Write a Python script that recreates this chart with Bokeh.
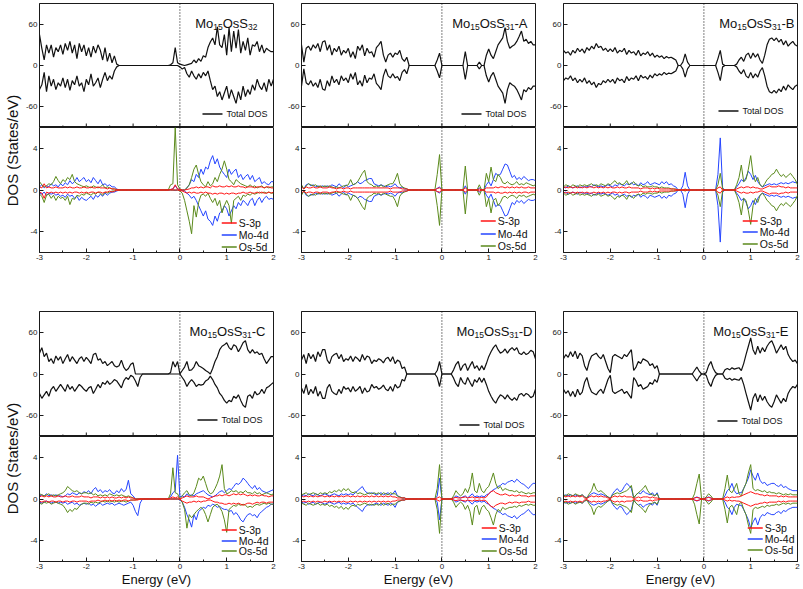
import numpy as np
from bokeh.plotting import figure
from bokeh.models import Range1d, FixedTicker, Span, Label
from bokeh.layouts import row, column
from bokeh.embed import file_html
from bokeh.resources import INLINE

# ---------------- data (0.05 eV steps from -3 to 2 eV) ----------------
ENERGY = np.round(np.linspace(-3.0, 2.0, 101), 2)
X_TICKS = [-3, -2, -1, 0, 1, 2]
X_MINOR = [-2.5, -1.5, -0.5, 0.5, 1.5]
TOT_TICKS = [-60, 0, 60]
PDOS_TICKS = [-4, 0, 4]
# title pieces: (text, is_subscript)
TITLES = [
    [("Mo", 0), ("15", 1), ("OsS", 0), ("32", 1)],
    [("Mo", 0), ("15", 1), ("OsS", 0), ("31", 1), ("-A", 0)],
    [("Mo", 0), ("15", 1), ("OsS", 0), ("31", 1), ("-B", 0)],
    [("Mo", 0), ("15", 1), ("OsS", 0), ("31", 1), ("-C", 0)],
    [("Mo", 0), ("15", 1), ("OsS", 0), ("31", 1), ("-D", 0)],
    [("Mo", 0), ("15", 1), ("OsS", 0), ("31", 1), ("-E", 0)],
]
TOTAL_LABEL = "Total DOS"
PDOS_LABELS = ["S-3p", "Mo-4d", "Os-5d"]

# Panel 1: Mo15OsS32 (spin up / spin down)
TOT0_UP = [45,25,8,30,18,30,12,26,20,30,
           16,32,22,35,18,30,10,32,20,30,
           14,26,12,28,18,30,22,8,26,6,
           18,4,14,2,0,0,0,0,0,0,
           0,0,0,0,0,0,0,0,0,0,
           0,0,0,0,0,0,1,4,26,4,
           2,1,0,1,2,3,8,4,10,6,
           14,12,26,34,40,30,56,30,26,45,
           15,55,20,50,25,52,18,35,22,40,
           15,30,28,35,20,30,18,25,22,20,
           20]
TOT0_DN = [-35,-28,-10,-38,-15,-30,-20,-35,-25,-30,
           -18,-32,-20,-36,-22,-28,-15,-30,-25,-38,
           -20,-28,-12,-30,-25,-18,-32,-20,-10,-22,
           -15,-20,-8,-2,0,0,0,0,0,0,
           0,0,0,0,0,0,0,0,0,0,
           0,0,0,0,0,0,0,0,0,0,
           -2,-5,-3,-12,-17,-8,-15,-20,-12,-18,
           -10,-15,-8,-22,-35,-30,-45,-38,-50,-40,
           -30,-48,-35,-45,-55,-38,-50,-30,-45,-35,
           -42,-28,-36,-20,-30,-35,-25,-38,-20,-30,
           -20]
S0_UP = [0.3,0.2,0.6,0.2,0.3,0.2,0.2,0.3,0.2,0.2,
         0.2,0.3,0.2,0.3,0.2,0.2,0.3,0.2,0.2,0.3,
         0.2,0.2,0.3,0.2,0.2,0.3,0.2,0.2,0.2,0.1,
         0.2,0.1,0.1,0.05,0,0,0,0,0,0,
         0,0,0,0,0,0,0,0,0,0,
         0,0,0,0,0,0,0.05,0.1,0.5,0.1,
         0.05,0,0,0.05,0.1,0.2,0.2,0.3,0.2,0.3,
         0.2,0.3,0.3,0.2,0.4,0.3,0.3,0.4,0.3,0.3,
         0.4,0.3,0.4,0.3,0.3,0.4,0.3,0.3,0.2,0.3,
         0.3,0.3,0.2,0.3,0.3,0.3,0.2,0.3,0.3,0.2,
         0.2]
S0_DN = [-0.2,-0.3,-0.8,-0.2,-0.3,-0.2,-0.3,-0.2,-0.3,-0.2,
         -0.3,-0.2,-0.3,-0.2,-0.3,-0.2,-0.2,-0.3,-0.2,-0.3,
         -0.2,-0.3,-0.2,-0.2,-0.3,-0.2,-0.2,-0.3,-0.2,-0.2,
         -0.1,-0.2,-0.1,-0.05,0,0,0,0,0,0,
         0,0,0,0,0,0,0,0,0,0,
         0,0,0,0,0,0,0,0,0,0,
         -0.05,-0.1,-0.2,-0.3,-0.2,-0.3,-0.2,-0.3,-0.3,-0.2,
         -0.3,-0.2,-0.3,-0.3,-0.4,-0.3,-0.4,-0.3,-0.3,-0.4,
         -0.3,-0.4,-0.3,-0.3,-0.4,-0.3,-0.3,-0.2,-0.3,-0.3,
         -0.2,-0.3,-0.3,-0.2,-0.3,-0.2,-0.3,-0.3,-0.2,-0.3,
         -0.2]
MO0_UP = [0.3,0.5,0.2,0.4,0.3,0.6,0.4,0.5,0.3,0.6,
          0.4,0.7,0.5,0.9,0.6,0.8,1.2,0.8,1.0,1.2,
          0.8,1.0,0.7,1.2,0.9,0.6,1.0,0.5,0.6,0.4,
          0.5,0.3,0.3,0.1,0,0,0,0,0,0,
          0,0,0,0,0,0,0,0,0,0,
          0,0,0,0,0,0,0.05,0.1,0.4,0.1,
          0.05,0,0,0.2,0.5,1.0,0.8,1.5,1.2,2.0,
          1.5,2.2,2.0,2.8,3.3,2.5,3.0,2.2,1.8,1.5,
          1.2,2.0,1.5,1.8,2.0,1.2,1.5,1.0,1.3,1.5,
          1.0,1.4,0.8,1.0,1.2,0.6,0.8,0.6,0.5,0.8,
          0.8]
MO0_DN = [-0.3,-0.4,-0.2,-0.5,-0.3,-0.4,-0.3,-0.5,-0.4,-0.6,
          -0.5,-0.7,-0.4,-0.6,-0.5,-0.8,-0.6,-1.0,-0.7,-0.9,
          -1.0,-0.8,-0.6,-0.9,-0.5,-0.7,-0.4,-0.6,-0.3,-0.5,
          -0.3,-0.2,-0.2,-0.1,0,0,0,0,0,0,
          0,0,0,0,0,0,0,0,0,0,
          0,0,0,0,0,0,0,0,-0.05,0,
          0,-0.05,-0.1,-0.3,-0.5,-0.8,-0.6,-1.0,-1.5,-2.0,
          -2.5,-2.0,-2.8,-3.0,-3.4,-2.5,-3.0,-2.2,-2.0,-1.5,
          -1.8,-2.5,-2.0,-1.5,-1.8,-1.2,-1.5,-1.0,-1.2,-1.5,
          -1.0,-0.8,-1.5,-1.0,-0.7,-1.2,-0.8,-0.6,-0.9,-0.8,
          -0.9]
OS0_UP = [0.8,0.5,0.3,0.4,0.6,0.5,0.8,1.3,0.9,0.6,
          1.0,0.8,1.2,1.0,1.5,0.8,0.6,0.5,0.4,0.3,
          0.4,0.3,0.2,0.4,0.3,0.2,0.3,0.5,0.2,0.3,
          0.2,0.1,0.1,0.05,0,0,0,0,0,0,
          0,0,0,0,0,0,0,0,0,0,
          0,0,0,0,0,0,0.5,0.6,6.0,0.5,
          0.1,0,0,0.2,0.5,1.2,2.0,2.4,1.5,0.8,
          0.5,0.3,0.8,0.4,0.6,1.2,0.8,1.5,2.0,2.8,
          2.0,1.0,0.8,0.5,1.0,0.8,0.6,0.5,0.4,0.3,
          0.5,0.3,0.4,0.2,0.3,0.4,0.2,0.3,0.2,0.3,
          0.3]
OS0_DN = [-0.4,-0.6,-1.2,-0.5,-0.4,-0.8,-0.5,-1.0,-0.6,-0.8,
          -0.7,-1.0,-0.6,-1.4,-0.8,-0.9,-0.5,-0.6,-0.4,-0.5,
          -0.3,-0.4,-0.5,-0.3,-0.4,-0.2,-0.3,-0.5,-0.2,-0.3,
          -0.2,-0.1,-0.1,0,0,0,0,0,0,0,
          0,0,0,0,0,0,0,0,0,0,
          0,0,0,0,0,0,0,0,0,0,
          -0.1,-0.3,-1.0,-2.0,-3.0,-4.2,-1.5,-2.6,-1.2,-0.5,
          -0.4,-0.6,-0.3,-0.8,-1.2,-0.8,-1.5,-1.0,-2.2,-1.5,
          -1.0,-1.5,-3.2,-1.0,-0.8,-0.6,-1.0,-0.5,-0.6,-0.4,
          -0.5,-0.3,-0.4,-0.3,-0.2,-0.3,-0.2,-0.3,-0.2,-0.3,
          -0.3]

# Panel A (spin down mirrors spin up in the picture)
TOT_A = [30,5,25,28,22,30,25,32,20,34,
         36,22,30,15,25,20,28,15,22,18,
         25,12,20,10,28,22,30,14,25,18,
         20,12,26,30,35,15,5,15,18,12,
         18,16,22,10,6,12,0,0,0,0,
         0,0,0,0,0,0,0,0,8,18,
         0,0,0,0,0,0,0,0,0,0,
         20,0,0,0,0,0,5,0,0,15,
         24,15,10,20,30,35,40,55,35,25,
         28,30,35,42,50,35,38,32,35,30,
         30]
S_A = [0.3,0.1,0.3,0.2,0.2,0.3,0.2,0.2,0.3,0.2,
       0.2,0.2,0.3,0.2,0.2,0.1,0.2,0.2,0.1,0.2,
       0.2,0.1,0.2,0.2,0.2,0.2,0.2,0.2,0.2,0.2,
       0.2,0.2,0.2,0.2,0.2,0.2,0.2,0.2,0.1,0.2,
       0.2,0.2,0.2,0.1,0.1,0.1,0,0,0,0,
       0,0,0,0,0,0,0,0,0.15,0.2,
       0,0,0,0,0,0,0,0,0,0,
       0.2,0,0,0,0,0,0.1,0,0,0.2,
       0.2,0.2,0.2,0.3,0.2,0.3,0.3,0.2,0.3,0.2,
       0.3,0.2,0.3,0.2,0.3,0.2,0.2,0.3,0.2,0.2,
       0.2]
MO_A = [0.4,0.1,0.5,0.6,0.4,0.5,0.3,0.4,0.3,0.4,
        0.3,0.4,0.3,0.5,0.4,0.3,0.6,0.4,0.2,0.5,
        0.3,0.4,0.5,0.6,0.8,0.6,0.7,0.9,1.0,1.1,
        1.1,0.6,0.5,0.4,0.5,0.4,0.3,0.4,0.3,0.4,
        0.6,0.3,0.2,0.3,0.1,0.1,0,0,0,0,
        0,0,0,0,0,0,0,0,0.15,0.3,
        0,0,0,0,0,0,0,0,0,0,
        0.4,0,0,0,0,0,0.2,0,0,0.5,
        0.8,0.4,1.0,1.6,1.4,1.5,2.0,2.5,2.4,1.8,
        1.2,1.4,1.0,1.2,1.0,1.3,1.1,0.9,1.0,1.0,
        0.9]
OS_A = [0.5,0.1,0.4,0.6,0.5,0.4,0.5,0.3,0.4,0.3,
        0.4,0.3,0.4,0.3,0.2,0.3,0.2,0.3,0.4,0.4,
        0.5,1.0,0.5,0.6,0.8,1.2,1.6,1.9,0.8,0.6,
        0.5,0.3,0.4,0.3,0.5,0.3,0.4,0.5,0.6,0.6,
        1.0,1.6,0.6,0.3,0.2,0.1,0,0,0,0,
        0,0,0,0,0,0,0,0,1.5,3.4,
        0,0,0,0,0,0,0,0,0,0,
        2.3,0,0,0,0,0,0.5,0,0,1.6,
        0.8,2.2,1.0,0.8,1.5,1.2,0.7,0.6,0.8,0.6,
        0.5,0.6,0.8,0.5,0.6,0.5,0.7,0.6,0.5,0.4,
        0.5]

# Panel B (mirrored spins)
TOT_B = [22,18,20,15,22,18,25,20,24,18,
         26,22,28,24,32,26,28,22,25,20,
         24,20,26,18,22,20,25,16,22,18,
         20,15,22,14,18,16,20,14,18,12,
         15,12,14,10,13,11,12,10,8,0,
         0,5,17,5,0,0,0,0,0,0,
         0,0,0,0,0,0,10,22,2,0,
         0,0,0,0,2,8,12,6,15,18,
         10,18,12,17,8,3,15,30,38,40,
         36,40,34,38,30,36,28,32,35,30,
         28]
S_B = [0.2,0.3,0.2,0.3,0.2,0.3,0.2,0.3,0.2,0.3,
       0.2,0.3,0.3,0.2,0.3,0.2,0.3,0.2,0.3,0.2,
       0.3,0.2,0.2,0.3,0.2,0.3,0.2,0.2,0.3,0.2,
       0.2,0.2,0.2,0.1,0.2,0.2,0.2,0.1,0.2,0.1,
       0.2,0.1,0.1,0.1,0.1,0.1,0.1,0.1,0.05,0,
       0,0,0.05,0,0,0,0,0,0,0,
       0,0,0,0,0,0,0.2,0.3,0,0,
       0,0,0,0,0.1,0.2,0.3,0.2,0.3,0.3,
       0.2,0.3,0.2,0.2,0.1,0.1,0.2,0.3,0.4,0.3,
       0.3,0.3,0.4,0.3,0.3,0.2,0.3,0.2,0.2,0.2,
       0.2]
MO_B = [0.3,0.2,0.4,0.3,0.2,0.3,0.4,0.2,0.3,0.3,
        0.3,0.4,0.3,0.5,0.4,0.3,0.4,0.3,0.4,0.5,
        0.4,0.3,0.5,0.4,0.6,0.5,0.4,0.6,0.5,0.7,
        0.5,0.6,0.4,0.7,0.5,0.6,0.8,0.5,0.6,0.7,
        0.6,0.5,0.8,0.6,0.8,0.5,0.6,0.4,0.3,0,
        0,0.4,1.7,0.4,0,0,0,0,0,0,
        0,0,0,0,0,0,1.5,5.0,0.2,0,
        0,0,0,0,0.3,0.6,1.0,0.8,1.2,1.8,
        1.5,1.0,1.4,0.8,0.5,0.3,0.4,0.5,0.6,0.5,
        0.6,0.5,0.6,0.7,0.6,0.7,0.6,0.7,0.8,0.7,
        0.8]
OS_B = [0.3,0.5,0.4,0.3,0.5,0.4,0.3,0.5,0.4,0.5,
        0.4,0.5,0.6,0.4,0.5,0.4,0.6,0.5,0.4,0.6,
        0.5,0.7,0.9,0.6,0.7,0.5,0.6,0.9,0.5,0.6,
        0.8,0.5,0.4,0.5,0.3,0.4,0.3,0.3,0.4,0.3,
        0.3,0.2,0.3,0.2,0.2,0.2,0.1,0.1,0.1,0,
        0,0,0.1,0,0,0,0,0,0,0,
        0,0,0,0,0,0,0.5,1.6,0.1,0,
        0,0,0,0,0.5,1.2,2.4,0.8,1.0,2.0,
        3.3,1.5,0.8,1.2,0.5,0.3,0.6,1.0,1.2,1.5,
        1.6,2.0,1.6,1.3,1.5,1.2,1.4,1.6,1.3,1.0,
        0.5]

# Panel C (spin up / spin down)
TOT_C_UP = [30,38,25,30,18,22,15,26,20,25,
            15,22,28,18,25,20,15,22,25,18,
            24,20,15,28,30,20,22,15,18,12,
            15,18,12,10,12,20,10,5,8,14,
            16,0,0,0,0,0,0,0,0,0,
            0,0,0,0,0,0,2,18,10,18,
            0,5,10,18,5,6,10,18,12,10,
            8,5,3,0,8,18,25,35,40,42,
            45,38,35,42,40,32,38,45,48,35,
            30,35,30,32,28,30,22,15,20,25,
            25]
TOT_C_DN = [-28,-35,-30,-25,-32,-22,-18,-25,-20,-15,
            -20,-25,-15,-22,-18,-25,-20,-15,-18,-22,
            -25,-20,-18,-28,-22,-15,-20,-12,-15,-10,
            -15,-12,-8,-10,-15,-20,-10,-5,-8,-2,
            -4,-10,-18,-5,0,0,0,0,0,0,
            0,0,0,0,0,0,0,0,0,0,
            0,-5,-10,-18,-12,-8,-12,-18,-15,-16,
            -15,-10,-8,-3,-8,-15,-20,-28,-32,-38,
            -42,-38,-40,-32,-35,-30,-38,-45,-48,-32,
            -30,-35,-25,-30,-28,-22,-28,-20,-18,-15,
            -12]
S_C_UP = [0.2,0.3,0.2,0.3,0.2,0.3,0.2,0.2,0.3,0.2,
          0.2,0.3,0.2,0.2,0.3,0.2,0.2,0.2,0.3,0.2,
          0.2,0.2,0.1,0.2,0.2,0.2,0.1,0.2,0.1,0.2,
          0.1,0.2,0.1,0.1,0.2,0.1,0.2,0.1,0.2,0.1,
          0.1,0,0,0,0,0,0,0,0,0,
          0,0,0,0,0,0,0.1,0.2,0.1,0.2,
          0,0.1,0.2,0.3,0.2,0.2,0.2,0.3,0.2,0.2,
          0.2,0.1,0,0.1,0.2,0.3,0.3,0.4,0.3,0.4,
          0.4,0.3,0.4,0.5,0.4,0.5,0.4,0.5,0.4,0.3,
          0.4,0.3,0.4,0.3,0.3,0.4,0.3,0.3,0.2,0.3,
          0.3]
S_C_DN = [-0.2,-0.3,-0.2,-0.2,-0.3,-0.2,-0.2,-0.3,-0.2,-0.2,
          -0.3,-0.2,-0.2,-0.3,-0.2,-0.2,-0.3,-0.2,-0.2,-0.2,
          -0.2,-0.3,-0.2,-0.2,-0.2,-0.1,-0.2,-0.2,-0.1,-0.2,
          -0.1,-0.2,-0.1,-0.2,-0.1,-0.2,-0.1,-0.1,-0.2,-0.1,
          -0.1,-0.1,-0.1,0,0,0,0,0,0,0,
          0,0,0,0,0,0,0,0,0,0,
          0,-0.2,-0.3,-0.4,-0.3,-0.3,-0.2,-0.3,-0.2,-0.3,
          -0.2,-0.2,-0.1,-0.1,-0.2,-0.3,-0.3,-0.4,-0.4,-0.5,
          -0.5,-0.4,-0.5,-0.4,-0.5,-0.4,-0.5,-0.6,-0.5,-0.4,
          -0.4,-0.5,-0.4,-0.3,-0.4,-0.3,-0.3,-0.4,-0.3,-0.3,
          -0.3]
MO_C_UP = [0.3,0.4,0.3,0.5,0.3,0.4,0.3,0.4,0.3,0.3,
           0.2,0.3,0.5,0.4,0.6,0.5,0.4,0.6,0.5,0.7,
           0.6,0.8,0.5,0.9,1.1,0.7,0.9,0.6,0.8,0.7,
           0.9,0.6,0.5,0.8,0.6,1.0,0.7,0.9,1.8,0.5,
           0.3,0,0,0,0,0,0,0,0,0,
           0,0,0,0,0,0,0.2,0.6,0.8,4.2,
           0.2,0.3,0.2,0.5,0.3,0.4,0.3,0.5,0.6,0.7,
           0.8,0.6,0.4,0.3,0.2,0.3,0.5,0.7,0.8,0.6,
           0.8,1.0,0.9,1.2,1.5,1.4,1.6,2.0,1.8,1.5,
           1.2,1.0,1.3,0.9,1.1,0.8,0.7,0.6,0.7,0.8,
           0.9]
MO_C_DN = [-0.3,-0.4,-0.3,-0.2,-0.3,-0.4,-0.3,-0.3,-0.4,-0.3,
           -0.4,-0.3,-0.5,-0.4,-0.3,-0.5,-0.4,-0.6,-0.5,-0.4,
           -0.5,-0.4,-0.6,-0.5,-0.7,-0.5,-0.4,-0.6,-0.5,-0.4,
           -0.5,-0.4,-0.6,-0.5,-0.4,-0.5,-0.6,-0.5,-0.4,-0.3,
           -0.6,-1.2,-1.6,-0.4,0,0,0,0,0,0,
           0,0,0,0,0,0,0,0,0,0,
           -0.1,-0.3,-0.8,-1.5,-2.0,-2.7,-1.5,-2.0,-1.2,-1.0,
           -0.8,-0.9,-0.6,-0.7,-0.5,-0.6,-0.8,-0.7,-0.9,-1.0,
           -1.0,-1.2,-1.1,-1.5,-1.3,-1.6,-2.0,-2.2,-1.8,-1.5,
           -1.4,-1.6,-1.5,-1.8,-1.4,-1.2,-1.0,-0.8,-0.7,-0.5,
           -0.5]
OS_C_UP = [0.5,0.4,0.3,0.4,0.5,0.3,0.4,0.3,0.4,0.5,
           0.6,0.8,1.2,1.0,0.8,0.7,0.8,0.6,0.5,0.6,
           0.6,0.5,0.6,0.4,0.5,0.3,0.4,0.3,0.4,0.3,
           0.5,0.4,0.3,0.4,0.3,0.4,0.3,0.2,0.3,0.2,
           0.1,0,0,0,0,0,0,0,0,0,
           0,0,0,0,0,0,0.5,3.0,0.6,0.5,
           0,0.3,0.6,0.8,0.4,0.3,0.6,1.2,2.0,1.8,
           2.2,1.5,0.8,0.5,0.6,1.0,1.5,2.2,3.3,1.0,
           0.5,0.6,0.8,0.7,0.8,0.6,0.7,0.6,0.8,0.6,
           0.6,0.5,0.7,0.5,0.6,0.4,0.5,0.6,0.5,0.4,
           0.5]
OS_C_DN = [-0.4,-0.5,-0.3,-0.4,-0.3,-0.5,-0.4,-0.3,-0.4,-0.5,
           -0.6,-0.9,-1.3,-1.0,-1.2,-0.9,-1.0,-0.7,-0.5,-0.4,
           -0.4,-0.5,-0.3,-0.4,-0.3,-0.4,-0.3,-0.2,-0.3,-0.2,
           -0.3,-0.2,-0.3,-0.2,-0.3,-0.2,-0.2,-0.3,-0.2,-0.1,
           -0.1,-0.1,0,0,0,0,0,0,0,0,
           0,0,0,0,0,0,0,0,0,0,
           0,-0.3,-1.0,-2.8,-1.5,-1.8,-1.5,-1.2,-1.0,-0.8,
           -1.0,-1.5,-2.2,-1.5,-0.8,-0.6,-0.5,-0.8,-1.2,-2.0,
           -3.2,-1.0,-0.8,-0.6,-0.7,-0.5,-0.6,-0.5,-0.6,-0.8,
           -0.7,-0.8,-0.6,-0.5,-0.6,-0.5,-0.4,-0.5,-0.4,-0.5,
           -0.5]

# Panel D (mirrored spins)
TOT_D = [20,28,15,30,22,28,18,32,25,35,
         35,20,15,25,28,30,22,28,18,22,
         20,26,18,25,22,18,28,20,26,24,
         15,20,18,22,20,16,22,24,18,25,
         15,20,18,8,10,0,0,0,0,0,
         0,0,0,0,0,0,0,0,5,18,
         0,0,0,0,0,6,14,18,5,12,
         15,5,12,18,8,12,5,12,6,15,
         25,32,38,42,35,30,32,36,30,35,
         38,34,38,30,28,32,28,30,34,32,
         22]
S_D = [0.3,0.2,0.3,0.2,0.3,0.2,0.3,0.2,0.3,0.3,
       0.2,0.3,0.2,0.3,0.2,0.3,0.2,0.3,0.2,0.3,
       0.3,0.2,0.3,0.2,0.3,0.2,0.3,0.2,0.3,0.2,
       0.3,0.2,0.3,0.2,0.3,0.2,0.3,0.2,0.3,0.2,
       0.2,0.1,0.1,0.1,0.1,0,0,0,0,0,
       0,0,0,0,0,0,0,0,0.1,0.2,
       0,0,0,0,0,0.1,0.15,0.1,0.1,0.15,
       0.2,0.1,0.15,0.2,0.1,0.15,0.1,0.15,0.1,0.2,
       0.5,0.7,0.8,0.6,0.5,0.4,0.4,0.5,0.4,0.3,
       0.4,0.3,0.3,0.4,0.3,0.3,0.3,0.2,0.3,0.3,
       0.3]
MO_D = [0.3,0.4,0.3,0.5,0.4,0.3,0.5,0.4,0.3,0.4,
        0.5,0.4,0.3,0.4,0.5,0.4,0.3,0.5,0.4,0.5,
        0.4,0.5,0.4,0.6,0.8,1.0,1.2,0.8,0.6,0.5,
        0.6,0.5,0.4,0.5,0.6,0.4,0.5,0.6,0.4,0.5,
        0.8,0.3,0.2,0.1,0.1,0,0,0,0,0,
        0,0,0,0,0,0,0,0,0.3,2.0,
        0,0,0,0,0,0.1,0.3,0.2,0.1,0.2,
        0.3,0.1,0.3,0.5,0.2,0.3,0.2,0.3,0.2,0.4,
        0.5,0.7,0.9,1.0,1.2,1.3,1.5,1.4,1.6,1.7,
        1.8,1.6,1.9,1.7,1.5,1.4,1.2,1.0,1.3,1.5,
        1.5]
OS_D = [0.4,0.5,0.6,0.4,0.5,0.6,0.5,0.4,0.6,0.5,
        0.6,0.5,0.7,0.6,0.8,0.7,0.9,0.7,1.0,0.8,
        1.0,0.7,0.6,0.7,0.5,0.6,0.5,0.4,0.5,0.6,
        0.5,0.6,0.5,0.6,0.4,0.6,0.5,0.4,0.6,0.5,
        0.5,0.3,0.2,0.1,0.1,0,0,0,0,0,
        0,0,0,0,0,0,0,0,1.0,3.3,
        0,0,0,0,0,0.3,0.8,0.5,0.3,0.5,
        1.0,0.6,1.2,2.5,0.8,0.6,1.5,0.8,0.6,1.0,
        1.2,1.8,2.5,1.5,1.0,1.2,0.8,1.0,0.9,0.8,
        0.8,0.7,0.8,0.6,0.7,0.6,0.5,0.6,0.5,0.6,
        0.6]

# Panel E (mirrored spins)
TOT_E = [22,28,24,32,25,33,22,30,26,12,
         5,18,26,28,30,25,22,28,18,8,
         2,25,28,26,24,22,28,25,30,35,
         5,10,18,15,22,20,18,12,15,8,
         12,0,0,0,0,0,0,0,0,0,
         0,0,0,0,0,0,5,10,4,0,
         0,2,12,18,8,2,0,0,0,6,
         8,6,9,7,8,9,5,15,28,40,
         52,35,28,40,30,38,32,40,45,48,
         40,30,36,42,35,40,28,22,18,20,
         15]
S_E = [0.3,0.2,0.3,0.2,0.3,0.2,0.3,0.2,0.3,0.1,
       0.05,0.2,0.3,0.2,0.3,0.2,0.3,0.2,0.2,0.1,
       0.05,0.2,0.3,0.2,0.3,0.2,0.3,0.2,0.2,0.2,
       0.05,0.1,0.2,0.1,0.2,0.2,0.2,0.1,0.2,0.1,
       0.1,0,0,0,0,0,0,0,0,0,
       0,0,0,0,0,0,0.1,0.15,0.1,0,
       0,0.1,0.15,0.1,0,0,0,0,0,0.1,
       0.2,0.1,0.2,0.15,0.2,0.2,0.3,0.4,0.5,0.6,
       0.7,0.6,0.5,0.5,0.4,0.4,0.3,0.4,0.3,0.3,
       0.3,0.3,0.2,0.3,0.2,0.3,0.2,0.2,0.2,0.2,
       0.2]
MO_E = [0.3,0.4,0.3,0.4,0.3,0.4,0.3,0.3,0.4,0.2,
        0.1,0.3,0.5,0.6,0.5,0.4,0.5,0.4,0.3,0.2,
        0.05,0.5,0.8,1.0,0.7,0.8,1.2,1.5,1.3,1.0,
        0.1,0.4,0.6,0.5,0.8,0.6,0.5,0.4,0.6,0.3,
        0.6,0,0,0,0,0,0,0,0,0,
        0,0,0,0,0,0,0.1,0.2,0.1,0,
        0,0.1,0.2,0.1,0,0,0,0,0,0.3,
        0.8,1.0,1.5,0.8,0.5,0.6,0.6,1.0,1.5,2.0,
        2.8,2.2,1.8,2.5,1.8,1.5,1.6,1.3,1.4,1.5,
        1.5,1.3,1.2,1.4,1.1,1.2,1.0,0.9,0.8,0.8,
        0.8]
OS_E = [0.4,0.3,0.5,0.4,0.3,0.5,0.4,0.3,0.4,0.2,
        0.1,0.5,0.8,1.5,0.9,0.7,0.8,0.6,0.4,0.2,
        0.05,0.4,0.5,0.6,0.5,0.6,0.7,0.8,1.0,1.3,
        0.1,0.4,0.6,0.8,1.0,1.3,0.8,0.5,0.4,0.3,
        0.5,0,0,0,0,0,0,0,0,0,
        0,0,0,0,0,0,0.5,1.5,2.4,0,
        0,0.2,0.5,0.3,0,0,0,0,0,1.0,
        2.3,0.8,0.6,1.0,1.5,0.5,0.3,1.0,1.5,2.5,
        3.3,1.0,0.8,0.9,0.8,0.7,0.8,0.6,0.7,0.6,
        0.6,0.5,0.6,0.5,0.4,0.5,0.4,0.5,0.4,0.4,
        0.4]


def mirror(v):
    return [-a for a in v]


PANELS = [
    (TOT0_UP, TOT0_DN, S0_UP, S0_DN, MO0_UP, MO0_DN, OS0_UP, OS0_DN),
    (TOT_A, mirror(TOT_A), S_A, mirror(S_A), MO_A, mirror(MO_A), OS_A, mirror(OS_A)),
    (TOT_B, mirror(TOT_B), S_B, mirror(S_B), MO_B, mirror(MO_B), OS_B, mirror(OS_B)),
    (TOT_C_UP, TOT_C_DN, S_C_UP, S_C_DN, MO_C_UP, MO_C_DN, OS_C_UP, OS_C_DN),
    (TOT_D, mirror(TOT_D), S_D, mirror(S_D), MO_D, mirror(MO_D), OS_D, mirror(OS_D)),
    (TOT_E, mirror(TOT_E), S_E, mirror(S_E), MO_E, mirror(MO_E), OS_E, mirror(OS_E)),
]

# ---------------- styling / layout ----------------
FONT = "Liberation Sans"
AX = "#1a1a1a"
C_TOT = "#111111"
C_S = "#ff1414"
C_MO = "#2444ff"
C_OS = "#5b8a1c"
FRAME_W = 234
UP_H = [124, 125]
LO_H = [125, 125]
TOP_B = [3, 45]
BOT_B = [14, 27]
LEFT_B = [17, 24, 24]
RIGHT_B = [4, 4, 4]
TITLE_RIGHT_PX = [16, 8, 3, 8, 3, 9]
TITLE_F = 13.0
TITLE_SUB_F = 8.5
# legend placement per panel (px): text right inset, first row height above frame bottom, row step
TOT_LEG_RIGHT = [5, 8, 13, 10, 10, 14]
TOT_LEG_UP = [13, 13, 16, 16, 11, 15]
PD_LEG_RIGHT = [5, 8, 8, 5, 7, 3]
PD_LEG_TOP = [29, 31, 31, 31, 33, 33]
PD_LEG_STEP = [12, 12.5, 11.5, 10.5, 11.5, 11]
# Arial-like advance widths (em) used to place text pieces
ADV = {"M": .833, "o": .556, "O": .778, "s": .5, "S": .667, "-": .333, "A": .667, "B": .667,
       "C": .722, "D": .722, "E": .667, "T": .611, "t": .278, "a": .556, "l": .222, " ": .278,
       "p": .556, "d": .556}
for d in "0123456789":
    ADV[d] = .556


def text_w(s, size):
    return sum(ADV.get(ch, .6) for ch in s) * size


def style(p, yticks, xlabel=None):
    p.grid.visible = False
    p.outline_line_color = AX
    p.outline_line_width = 1
    p.background_fill_color = "white"
    p.border_fill_color = "white"
    p.yaxis.ticker = FixedTicker(ticks=yticks)
    p.yaxis.major_label_overrides = {t: str(t) for t in yticks}
    axes = [p.yaxis[0]]
    if p.xaxis:
        p.xaxis.ticker = FixedTicker(ticks=X_TICKS, minor_ticks=X_MINOR)
        p.xaxis.major_label_overrides = {t: str(t) for t in X_TICKS}
        axes.append(p.xaxis[0])
    for ax in axes:
        ax.axis_line_color = AX
        ax.major_tick_line_color = AX
        ax.minor_tick_line_color = AX
        ax.major_tick_in = 4
        ax.major_tick_out = 0
        ax.minor_tick_in = 2
        ax.minor_tick_out = 0
        ax.major_label_text_font = FONT
        ax.major_label_text_font_size = "8px"
        ax.major_label_text_color = "#222222"
        ax.major_label_standoff = 2
    p.yaxis.minor_tick_in = 0
    if xlabel:
        p.xaxis.axis_label = xlabel
        p.xaxis.axis_label_text_font = FONT
        p.xaxis.axis_label_text_font_size = "13px"
        p.xaxis.axis_label_text_font_style = "normal"
        p.xaxis.axis_label_text_color = "#111111"
        p.xaxis.axis_label_standoff = 0
    p.add_layout(Span(location=0, dimension="height", line_color="#000000",
                      line_dash="1 2", line_width=1, level="underlay"))


def add_bottom_ticks(p, frame_h, y0, y1):
    """Inward tick marks along the lower edge of an upper panel (no labels there)."""
    uy = (y1 - y0) / frame_h
    xs = list(X_TICKS) + list(X_MINOR)
    lens = [4] * len(X_TICKS) + [2] * len(X_MINOR)
    p.segment(x0=xs, y0=[y0] * len(xs), x1=xs, y1=[y0 + L * uy for L in lens],
              line_color=AX, line_width=1)


def add_key(p, entries, font_px, right_px, first_px, step_px, line_len, gap, frame_h, y0, y1):
    """Legend drawn as keys + labels, placed from the lower-right corner of the frame."""
    mw = max(text_w(lbl, font_px) for lbl, _ in entries)
    ux = 5.0 / FRAME_W
    uy = (y1 - y0) / frame_h
    text_left = right_px + mw
    xa = 2 - (text_left + gap + line_len) * ux
    xb = 2 - (text_left + gap) * ux
    for k, (lbl, col) in enumerate(entries):
        y = y0 + (round(first_px - k * step_px) + 0.5) * uy
        p.add_layout(Label(x=2, y=y, x_offset=-text_left, text=lbl, text_align="left",
                           text_baseline="middle", text_font=FONT,
                           text_font_size="%.1fpx" % font_px, text_color="#111111"))
        p.line(x=[xa, xb], y=[y, y], line_color=col, line_width=1.6)


def add_title(p, idx, frame_h):
    pieces = TITLES[idx]
    widths = [text_w(t, TITLE_SUB_F if sub else TITLE_F) for t, sub in pieces]
    px = 180.0 / frame_h
    y_main = 90 - 19.7 * px
    y_sub = 90 - 23.7 * px
    x_anchor = 2 - TITLE_RIGHT_PX[idx] * 5.0 / FRAME_W
    off = -sum(widths)
    for (t, sub), w in zip(pieces, widths):
        p.add_layout(Label(x=x_anchor, y=y_sub if sub else y_main, x_offset=off, text=t,
                           text_align="left", text_baseline="alphabetic", text_font=FONT,
                           text_font_size="%.1fpx" % (TITLE_SUB_F if sub else TITLE_F),
                           text_color="#111111"))
        off += w


def make_panel(idx):
    col = idx % 3
    r = 1 if idx >= 3 else 0
    tu, td, su, sd, mu, md, ou, od = PANELS[idx]

    up = figure(frame_width=FRAME_W, frame_height=UP_H[r], x_range=Range1d(-3, 2),
                y_range=Range1d(-90, 90), output_backend="svg", toolbar_location=None,
                x_axis_location=None,
                min_border_left=LEFT_B[col], min_border_right=RIGHT_B[col],
                min_border_top=TOP_B[r], min_border_bottom=0)
    style(up, TOT_TICKS)
    add_bottom_ticks(up, UP_H[r], -90, 90)
    up.line(ENERGY, tu, line_color=C_TOT, line_width=1.2)
    up.line(ENERGY, td, line_color=C_TOT, line_width=1.2)
    add_key(up, [(TOTAL_LABEL, C_TOT)], 9.0, TOT_LEG_RIGHT[idx], TOT_LEG_UP[idx], 0,
            20, 4, UP_H[r], -90, 90)
    add_title(up, idx, UP_H[r])

    lo = figure(frame_width=FRAME_W, frame_height=LO_H[r], x_range=Range1d(-3, 2),
                y_range=Range1d(-6, 6), output_backend="svg", toolbar_location=None,
                min_border_left=LEFT_B[col], min_border_right=RIGHT_B[col],
                min_border_top=0, min_border_bottom=BOT_B[r])
    style(lo, PDOS_TICKS, "Energy (eV)" if r == 1 else None)
    lo.line(ENERGY, mu, line_color=C_MO, line_width=1)
    lo.line(ENERGY, md, line_color=C_MO, line_width=1)
    lo.line(ENERGY, ou, line_color=C_OS, line_width=1)
    lo.line(ENERGY, od, line_color=C_OS, line_width=1)
    lo.line(ENERGY, su, line_color=C_S, line_width=1)
    lo.line(ENERGY, sd, line_color=C_S, line_width=1)
    add_key(lo, list(zip(PDOS_LABELS, [C_S, C_MO, C_OS])), 10.5, PD_LEG_RIGHT[idx],
            PD_LEG_TOP[idx], PD_LEG_STEP[idx], 15, 2, LO_H[r], -6, 6)
    return up, lo


figs = [make_panel(i) for i in range(6)]
columns = []
for c in range(3):
    t_up, t_lo = figs[c]
    b_up, b_lo = figs[c + 3]
    columns.append(column(t_up, t_lo, b_up, b_lo, spacing=0))

TOTAL_H = TOP_B[0] + UP_H[0] + LO_H[0] + BOT_B[0] + TOP_B[1] + UP_H[1] + LO_H[1] + BOT_B[1]
lab = figure(frame_width=22, frame_height=TOTAL_H, x_range=Range1d(0, 22),
             y_range=Range1d(TOTAL_H, 0), output_backend="svg", toolbar_location=None,
             x_axis_location=None, y_axis_location=None, min_border=0)
lab.grid.visible = False
lab.outline_line_color = None
lab.background_fill_color = "white"
lab.border_fill_color = "white"
for yc in (150, 458):
    lab.add_layout(Label(x=12, y=yc, text="DOS (States/eV)", angle=np.pi / 2, text_align="center",
                         text_baseline="middle", text_font=FONT, text_font_size="15px",
                         text_color="#111111"))

p = row(lab, *columns, spacing=0)
open("out.html", "w").write(file_html(p, INLINE))
